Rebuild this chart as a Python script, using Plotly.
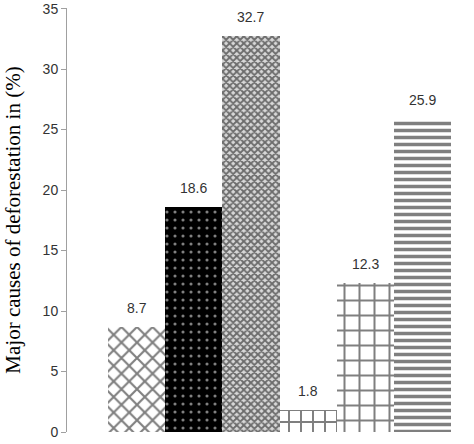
import plotly.graph_objects as go

categories = ["C1", "C2", "C3", "C4", "C5", "C6"]
values = [8.7, 18.6, 32.7, 1.8, 12.3, 25.9]
value_labels = ["8.7", "18.6", "32.7", "1.8", "12.3", "25.9"]
y_ticks = [0, 5, 10, 15, 20, 25, 30, 35]

patterns = [
    dict(shape="x", fgcolor="#000000", bgcolor="white", size=11, solidity=0.35),
    dict(shape=".", fgcolor="white", bgcolor="black", size=8, solidity=0.12),
    dict(shape="x", fgcolor="#000000", bgcolor="#d8d8d8", size=5, solidity=0.6),
    dict(shape="+", fgcolor="black", bgcolor="white", size=12, solidity=0.3),
    dict(shape="+", fgcolor="black", bgcolor="white", size=15, solidity=0.25),
    dict(shape="-", fgcolor="#000000", bgcolor="white", size=7, solidity=0.5),
]

fig = go.Figure()
for i, (c, v) in enumerate(zip(categories, values)):
    fig.add_trace(go.Bar(
        x=[i], y=[v], width=1.0,
        marker=dict(color="white", pattern=patterns[i], line=dict(width=0)),
        showlegend=False, hoverinfo="skip",
    ))
    fig.add_annotation(x=i, y=v, text=value_labels[i], showarrow=False,
                       yshift=19, font=dict(family="Liberation Sans", size=14, color="#333333"))

fig.update_layout(
    width=474, height=444,
    margin=dict(l=67, r=0, t=8, b=12),
    paper_bgcolor="white", plot_bgcolor="white",
    bargap=0, barmode="overlay",
    xaxis=dict(range=[-1.217, 5.90], showticklabels=False, showgrid=False,
               zeroline=False, showline=False, ticks=""),
    yaxis=dict(range=[0, 35.05], tickvals=y_ticks, showgrid=False, zeroline=False,
               showline=True, linecolor="#a0a0a0", linewidth=1,
               ticks="outside", ticklen=5, tickcolor="#a0a0a0",
               ticklabeloverflow="allow",
               tickfont=dict(family="Liberation Sans", size=14, color="#333333"),
               title=dict(text="Major causes of deforestation in (%)",
                          font=dict(family="Liberation Serif", size=21, color="black"),
                          standoff=16)),
)

fig.write_html("out.html")
